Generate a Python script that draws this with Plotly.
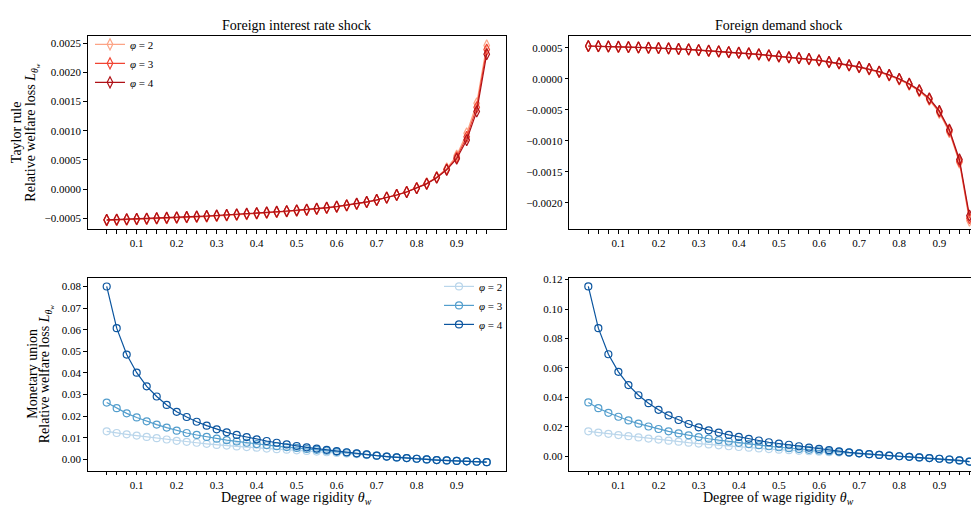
import plotly.graph_objects as go

# ---------------- data ----------------
theta_w = [0.025, 0.05, 0.075, 0.1, 0.125, 0.15, 0.175, 0.2, 0.225, 0.25,
           0.275, 0.3, 0.325, 0.35, 0.375, 0.4, 0.425, 0.45, 0.475, 0.5,
           0.525, 0.55, 0.575, 0.6, 0.625, 0.65, 0.675, 0.7, 0.725, 0.75,
           0.775, 0.8, 0.825, 0.85, 0.875, 0.9, 0.925, 0.95, 0.975]
phi_labels = ["2", "3", "4"]

# Taylor rule, foreign interest rate shock
taylor_fir_phi2 = [-0.000535, -0.000530, -0.000525, -0.000519, -0.000513, -0.000507, -0.000500, -0.000493, -0.000486, -0.000478,
                   -0.000470, -0.000461, -0.000452, -0.000442, -0.000431, -0.000420, -0.000408, -0.000396, -0.000384, -0.000371,
                   -0.000358, -0.000343, -0.000325, -0.000305, -0.000282, -0.000255, -0.000224, -0.000188, -0.000146, -0.000099,
                   -0.000046, 0.000022, 0.000100, 0.000207, 0.000355, 0.000575, 0.000955, 0.001470, 0.002460]
taylor_fir_phi3 = [-0.000530, -0.000525, -0.000520, -0.000514, -0.000508, -0.000502, -0.000495, -0.000488, -0.000481, -0.000473,
                   -0.000465, -0.000456, -0.000447, -0.000437, -0.000426, -0.000415, -0.000403, -0.000391, -0.000379, -0.000366,
                   -0.000354, -0.000339, -0.000321, -0.000301, -0.000279, -0.000252, -0.000222, -0.000186, -0.000145, -0.000100,
                   -0.000048, 0.000018, 0.000095, 0.000200, 0.000340, 0.000545, 0.000895, 0.001400, 0.002390]
taylor_fir_phi4 = [-0.000525, -0.000520, -0.000515, -0.000509, -0.000503, -0.000497, -0.000490, -0.000483, -0.000476, -0.000468,
                   -0.000460, -0.000451, -0.000442, -0.000432, -0.000421, -0.000410, -0.000398, -0.000387, -0.000375, -0.000362,
                   -0.000350, -0.000335, -0.000318, -0.000298, -0.000276, -0.000250, -0.000220, -0.000185, -0.000145, -0.000100,
                   -0.000050, 0.000015, 0.000090, 0.000195, 0.000330, 0.000520, 0.000840, 0.001330, 0.002310]

# Taylor rule, foreign demand shock
taylor_fd_phi2 = [0.000528, 0.000526, 0.000522, 0.000517, 0.000512, 0.000506, 0.000501, 0.000496, 0.000490, 0.000480,
                  0.000474, 0.000463, 0.000453, 0.000442, 0.000431, 0.000420, 0.000409, 0.000393, 0.000377, 0.000361,
                  0.000346, 0.000332, 0.000316, 0.000295, 0.000268, 0.000246, 0.000213, 0.000185, 0.000152, 0.000108,
                  0.000053, -0.000012, -0.000095, -0.000200, -0.000340, -0.000550, -0.000860, -0.001350, -0.002290]
taylor_fd_phi3 = [0.000530, 0.000528, 0.000524, 0.000519, 0.000514, 0.000508, 0.000503, 0.000498, 0.000492, 0.000482,
                  0.000476, 0.000465, 0.000455, 0.000444, 0.000433, 0.000423, 0.000412, 0.000396, 0.000380, 0.000364,
                  0.000349, 0.000335, 0.000320, 0.000299, 0.000272, 0.000250, 0.000218, 0.000190, 0.000158, 0.000114,
                  0.000060, -0.000004, -0.000085, -0.000189, -0.000326, -0.000530, -0.000840, -0.001330, -0.002250]
taylor_fd_phi4 = [0.000532, 0.000530, 0.000526, 0.000521, 0.000516, 0.000510, 0.000505, 0.000500, 0.000494, 0.000484,
                  0.000478, 0.000467, 0.000457, 0.000446, 0.000435, 0.000425, 0.000414, 0.000398, 0.000382, 0.000366,
                  0.000352, 0.000338, 0.000323, 0.000302, 0.000275, 0.000254, 0.000222, 0.000195, 0.000163, 0.000120,
                  0.000067, 0.000003, -0.000077, -0.000179, -0.000313, -0.000516, -0.000820, -0.001301, -0.002209]

# Monetary union, foreign interest rate shock
mu_fir_phi2 = [0.0130, 0.0122, 0.0116, 0.0110, 0.0104, 0.0098, 0.0092, 0.0086, 0.0081, 0.0077,
               0.0072, 0.0067, 0.0064, 0.0060, 0.0057, 0.0054, 0.0050, 0.0047, 0.0045, 0.0042,
               0.0039, 0.0036, 0.0033, 0.0030, 0.0027, 0.0024, 0.0020, 0.0016, 0.0012, 0.0009,
               0.0006, 0.0003, 0.0000, -0.0003, -0.0005, -0.0007, -0.0009, -0.0011, -0.0013]
mu_fir_phi3 = [0.0263, 0.0237, 0.0213, 0.0194, 0.0176, 0.0161, 0.0147, 0.0133, 0.0122, 0.0113,
               0.0104, 0.0096, 0.0089, 0.0083, 0.0077, 0.0071, 0.0066, 0.0061, 0.0057, 0.0053,
               0.0048, 0.0044, 0.0040, 0.0035, 0.0031, 0.0027, 0.0022, 0.0018, 0.0013, 0.0009,
               0.0006, 0.0003, 0.0000, -0.0003, -0.0005, -0.0007, -0.0009, -0.0011, -0.0013]
mu_fir_phi4 = [0.0800, 0.0607, 0.0485, 0.0401, 0.0338, 0.0291, 0.0252, 0.0220, 0.0196, 0.0174,
               0.0156, 0.0139, 0.0125, 0.0113, 0.0103, 0.0093, 0.0085, 0.0077, 0.0069, 0.0062,
               0.0056, 0.0050, 0.0044, 0.0038, 0.0033, 0.0028, 0.0023, 0.0017, 0.0013, 0.0009,
               0.0006, 0.0003, 0.0000, -0.0003, -0.0005, -0.0007, -0.0009, -0.0011, -0.0013]

# Monetary union, foreign demand shock
mu_fd_phi2 = [0.0170, 0.0162, 0.0153, 0.0145, 0.0137, 0.0129, 0.0121, 0.0114, 0.0107, 0.0100,
              0.0093, 0.0087, 0.0081, 0.0075, 0.0069, 0.0064, 0.0059, 0.0054, 0.0050, 0.0046,
              0.0042, 0.0038, 0.0035, 0.0032, 0.0029, 0.0026, 0.0023, 0.0019, 0.0015, 0.0010,
              0.0005, 0.0001, -0.0003, -0.0007, -0.0011, -0.0016, -0.0021, -0.0027, -0.0035]
mu_fd_phi3 = [0.0366, 0.0327, 0.0296, 0.0269, 0.0244, 0.0222, 0.0203, 0.0186, 0.0170, 0.0156,
              0.0143, 0.0131, 0.0120, 0.0110, 0.0101, 0.0092, 0.0084, 0.0076, 0.0069, 0.0062,
              0.0056, 0.0050, 0.0045, 0.0040, 0.0035, 0.0031, 0.0026, 0.0021, 0.0015, 0.0010,
              0.0005, 0.0001, -0.0003, -0.0007, -0.0011, -0.0016, -0.0021, -0.0027, -0.0035]
mu_fd_phi4 = [0.1153, 0.0870, 0.0693, 0.0574, 0.0484, 0.0415, 0.0361, 0.0316, 0.0278, 0.0247,
              0.0220, 0.0197, 0.0177, 0.0162, 0.0146, 0.0132, 0.0119, 0.0108, 0.0096, 0.0087,
              0.0079, 0.0069, 0.0060, 0.0051, 0.0042, 0.0034, 0.0027, 0.0021, 0.0015, 0.0010,
              0.0005, 0.0001, -0.0003, -0.0007, -0.0011, -0.0016, -0.0021, -0.0027, -0.0035]

x_major_ticks = [0.1, 0.2, 0.3, 0.4, 0.5, 0.6, 0.7, 0.8, 0.9]
x_tick_labels = ["0.1", "0.2", "0.3", "0.4", "0.5", "0.6", "0.7", "0.8", "0.9"]
tl_yticks = [-0.0005, 0.0, 0.0005, 0.0010, 0.0015, 0.0020, 0.0025]
tl_ytext = ["\u22120.0005", "0.0000", "0.0005", "0.0010", "0.0015", "0.0020", "0.0025"]
tr_yticks = [-0.0020, -0.0015, -0.0010, -0.0005, 0.0, 0.0005]
tr_ytext = ["\u22120.0020", "\u22120.0015", "\u22120.0010", "\u22120.0005", "0.0000", "0.0005"]
bl_yticks = [0.0, 0.01, 0.02, 0.03, 0.04, 0.05, 0.06, 0.07, 0.08]
bl_ytext = ["0.00", "0.01", "0.02", "0.03", "0.04", "0.05", "0.06", "0.07", "0.08"]
br_yticks = [0.0, 0.02, 0.04, 0.06, 0.08, 0.10, 0.12]
br_ytext = ["0.00", "0.02", "0.04", "0.06", "0.08", "0.10", "0.12"]

# ---------------- style ----------------
FONT = "Liberation Serif"
reds = ["#fca486", "#f14432", "#af1117"]
blues = ["#bad6eb", "#539ecd", "#0b559f"]

# page has an 8px body margin: lay out in page pixels, shifted into figure space
OFF = 8
W, H = 979 - OFF, 507 - OFF
def px_x(v): return (v - OFF) / W
def px_y(v): return 1 - (v - OFF) / H

xL = [px_x(87.7), px_x(505.7)]
xR = [px_x(569.3), px_x(978)]
yT = [px_y(227.0), px_y(32.3)]
yB = [px_y(470.7), px_y(275.7)]

fig = go.Figure()

panels = [
    ("x", "y", [taylor_fir_phi2, taylor_fir_phi3, taylor_fir_phi4], reds, "diamond-tall-open", "legend", True),
    ("x2", "y2", [taylor_fd_phi2, taylor_fd_phi3, taylor_fd_phi4], reds, "diamond-tall-open", "legend", False),
    ("x3", "y3", [mu_fir_phi2, mu_fir_phi3, mu_fir_phi4], blues, "circle-open", "legend2", True),
    ("x4", "y4", [mu_fd_phi2, mu_fd_phi3, mu_fd_phi4], blues, "circle-open", "legend2", False),
]
for xa, ya, series, cols, sym, leg, show in panels:
    for vals, col, lab in zip(series, cols, phi_labels):
        fig.add_trace(go.Scatter(
            x=theta_w, y=vals, xaxis=xa, yaxis=ya, mode="lines+markers",
            line=dict(color=col, width=1.2),
            marker=dict(symbol=sym, size=7 if sym.startswith("circle") else 8,
                        color=col, line=dict(color=col, width=1.2)),
            name=f"<i>\u03c6</i> = {lab}", legend=leg, showlegend=show,
        ))

def xaxis(domain, anchor, rng):
    return dict(domain=domain, anchor=anchor, range=rng, tickmode="array",
                tickvals=x_major_ticks, ticktext=x_tick_labels, ticks="outside", ticklen=3.5,
                tickwidth=0.8, tickcolor="black", showline=True, mirror=True,
                minor=dict(tickmode="array", tickvals=theta_w, ticks="outside", ticklen=3.5,
                           tickwidth=0.8, tickcolor="black", showgrid=False),
                linecolor="black", linewidth=1, showgrid=False, zeroline=False,
                tickfont=dict(family=FONT, size=11, color="black"))

def yaxis(domain, anchor, rng, tv, tt):
    return dict(domain=domain, anchor=anchor, range=rng, tickmode="array",
                tickvals=tv, ticktext=tt, ticks="outside", ticklen=3.5,
                tickwidth=0.8, tickcolor="black", showline=True, mirror=True,
                linecolor="black", linewidth=1, showgrid=False, zeroline=False,
                tickfont=dict(family=FONT, size=11, color="black"))

xrL = [-0.0225, 1.0225]
xrR = [-0.0224, 0.9963]

fig.update_layout(
    width=W, height=H, margin=dict(l=0, r=0, t=0, b=0),
    paper_bgcolor="white", plot_bgcolor="white",
    font=dict(family=FONT, size=11, color="black"),
    xaxis=xaxis(xL, "y", xrL),
    yaxis=yaxis(yT, "x", [-0.000687, 0.00262], tl_yticks, tl_ytext),
    xaxis2=xaxis(xR, "y2", xrR),
    yaxis2=yaxis(yT, "x2", [-0.002428, 0.000692], tr_yticks, tr_ytext),
    xaxis3=xaxis(xL, "y3", xrL),
    yaxis3=yaxis(yB, "x3", [-0.00537, 0.08413], bl_yticks, bl_ytext),
    xaxis4=xaxis(xR, "y4", xrR),
    yaxis4=yaxis(yB, "x4", [-0.00989, 0.12135], br_yticks, br_ytext),
    legend=dict(x=px_x(90), y=px_y(26), xanchor="left", yanchor="top",
                bgcolor="rgba(0,0,0,0)", font=dict(family=FONT, size=11),
                itemwidth=30, tracegroupgap=0),
    legend2=dict(x=px_x(508), y=px_y(270), xanchor="right", yanchor="top",
                 bgcolor="rgba(0,0,0,0)", font=dict(family=FONT, size=11),
                 itemwidth=30, tracegroupgap=0),
    showlegend=True,
)

ann_font = dict(family=FONT, size=14, color="black")
xtitle = "Degree of wage rigidity <i>\u03b8</i><sub><i>w</i></sub>"
ylab = "Relative welfare loss <i>L</i><sub><i>\u03b8</i><sub><i>w</i></sub></sub>"

def ann(text, x, y, xa="center", ya="middle", angle=0, yshift=0):
    return dict(text=text, x=x, y=y, xref="paper", yref="paper", xanchor=xa, yanchor=ya,
                textangle=angle, yshift=yshift, showarrow=False, font=ann_font)

yTc = (yT[0] + yT[1]) / 2
yBc = (yB[0] + yB[1]) / 2
annotations = [
    ann("Foreign interest rate shock", (xL[0] + xL[1]) / 2, yT[1], ya="bottom", yshift=1),
    ann("Foreign demand shock", px_x(778.5), yT[1], ya="bottom", yshift=1),
    ann(xtitle, (xL[0] + xL[1]) / 2, px_y(498)),
    ann(xtitle, px_x(778.5), px_y(498)),
    ann("Taylor rule", px_x(16.5), yTc, angle=-90),
    ann(ylab, px_x(32), yTc, angle=-90),
    ann("Monetary union", px_x(32.5), yBc, angle=-90),
    ann(ylab, px_x(46), yBc, angle=-90),
]
fig.update_layout(annotations=annotations)

fig.write_html("out.html")
